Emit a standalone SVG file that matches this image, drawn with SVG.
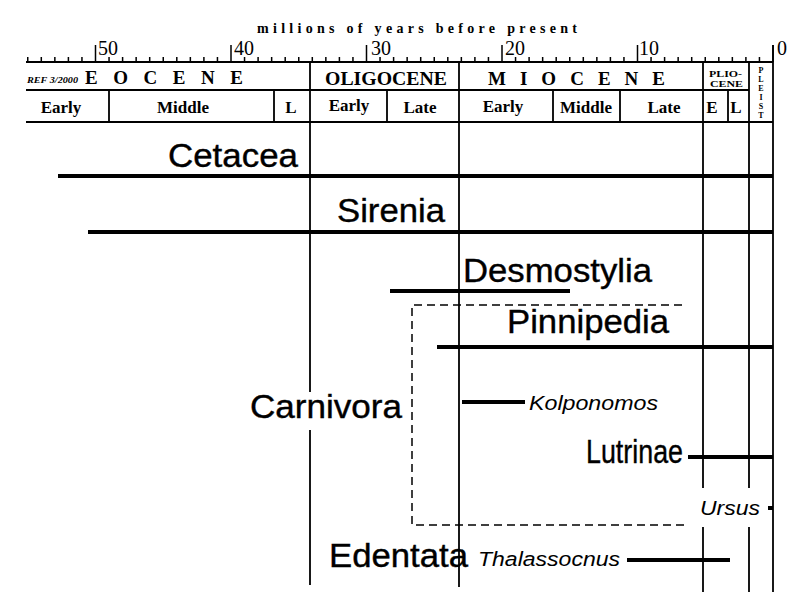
<svg xmlns="http://www.w3.org/2000/svg" width="800" height="600" viewBox="0 0 800 600">
<style>
.ln{stroke:#000;stroke-width:1.8;fill:none}
.bar{stroke:#000;stroke-width:4;fill:none}
.tk{stroke:#000;stroke-width:1.5;fill:none}
.dash{stroke:#000;stroke-width:1.5;fill:none;stroke-dasharray:8 5}
.ser{font-family:"Liberation Serif","Times New Roman",serif;fill:#000}
.sb{font-family:"Liberation Serif","Times New Roman",serif;font-weight:bold;fill:#000}
.big{font-family:"Liberation Sans",Arial,sans-serif;font-size:34px;fill:#000;stroke:#000;stroke-width:0.4}
.it{font-family:"Liberation Sans",Arial,sans-serif;font-size:20px;font-style:italic;fill:#000}
.sub{font-family:"Liberation Serif","Times New Roman",serif;font-weight:bold;font-size:17px;fill:#000;text-anchor:middle}
</style>
<rect width="800" height="600" fill="#fff"/>

<g id="axis">
<text class="sb" x="257" y="33" font-size="14" textLength="320" lengthAdjust="spacing">millions of years before present</text>
<path class="ln" d="M26,62H773"/>
<path class="tk" d="M773,45V62M637.5,45V62M502,45V62M366.5,45V62M231,45V62M95.5,45V62"/>
<path class="tk" d="M759.45,57V62M745.9,57V62M732.35,57V62M718.8,57V62M705.25,57V62M691.7,57V62M678.15,57V62M664.6,57V62M651.05,57V62M623.95,57V62M610.4,57V62M596.85,57V62M583.3,57V62M569.75,57V62M556.2,57V62M542.65,57V62M529.1,57V62M515.55,57V62M488.45,57V62M474.9,57V62M461.35,57V62M447.8,57V62M434.25,57V62M420.7,57V62M407.15,57V62M393.6,57V62M380.05,57V62M352.95,57V62M339.4,57V62M325.85,57V62M312.3,57V62M298.75,57V62M285.2,57V62M271.65,57V62M258.1,57V62M244.55,57V62M217.45,57V62M203.9,57V62M190.35,57V62M176.8,57V62M163.25,57V62M149.7,57V62M136.15,57V62M122.6,57V62M109.05,57V62M81.95,57V62M68.4,57V62M54.85,57V62M41.3,57V62M27.75,57V62"/>
<g class="ser" font-size="20">
<text x="98" y="55">50</text>
<text x="234" y="55">40</text>
<text x="371" y="55">30</text>
<text x="505" y="55">20</text>
<text x="639" y="55">10</text>
<text x="777" y="55">0</text>
</g>
</g>

<g id="epochs">
<path class="ln" d="M26,90H749M26,122H773"/>
<path class="ln" d="M109,90V122M274,90V122M387,90V122M553,90V122M620,90V122M728,90V122"/>
<text class="sb" x="27" y="83" font-size="9" font-style="italic" textLength="51" lengthAdjust="spacingAndGlyphs">REF 3/2000</text>
<text class="sb" x="85" y="84" font-size="19" textLength="158" lengthAdjust="spacing">E O C E N E</text>
<text class="sb" x="325" y="85" font-size="19" font-weight="normal" textLength="122" lengthAdjust="spacingAndGlyphs">OLIGOCENE</text>
<text class="sb" x="488" y="85" font-size="19" textLength="177" lengthAdjust="spacing">M I O C E N E</text>
<text class="sb" x="709" y="77" font-size="9" textLength="33" lengthAdjust="spacingAndGlyphs">PLIO-</text>
<text class="sb" x="710" y="87" font-size="9" textLength="33" lengthAdjust="spacingAndGlyphs">CENE</text>
<text class="sb" font-size="8" text-anchor="middle"><tspan x="761" y="73">P</tspan><tspan x="761" y="82">L</tspan><tspan x="761" y="91">E</tspan><tspan x="761" y="100">I</tspan><tspan x="761" y="109">S</tspan><tspan x="761" y="118">T</tspan></text>
<text class="sub" x="61" y="113">Early</text>
<text class="sub" x="183" y="113">Middle</text>
<text class="sub" x="291" y="113">L</text>
<text class="sub" x="349" y="111">Early</text>
<text class="sub" x="420" y="113">Late</text>
<text class="sub" x="503" y="112">Early</text>
<text class="sub" x="586" y="113">Middle</text>
<text class="sub" x="664" y="113">Late</text>
<text class="sub" x="712" y="113">E</text>
<text class="sub" x="736" y="113">L</text>
</g>

<g id="grid">
<path class="ln" d="M310,62V392M310,430V585"/>
<path class="ln" d="M459,62V587"/>
<path class="ln" d="M703,62V488M703,527V592"/>
<path class="ln" d="M749,62V488M749,527V592"/>
<path class="ln" d="M773,45V592"/>
</g>

<g id="cetacea">
<text class="big" x="168" y="167" textLength="130" lengthAdjust="spacingAndGlyphs">Cetacea</text>
<path class="bar" d="M58,176H773"/>
</g>
<g id="sirenia">
<text class="big" x="337" y="222" textLength="108" lengthAdjust="spacingAndGlyphs">Sirenia</text>
<path class="bar" d="M88,232H773"/>
</g>
<g id="desmostylia">
<text class="big" x="463" y="282" textLength="189" lengthAdjust="spacingAndGlyphs">Desmostylia</text>
<path class="bar" d="M390,291H570"/>
</g>
<g id="carnivora">
<path class="dash" d="M682,305H412V525H688"/>
<text class="big" x="250" y="418" textLength="152" lengthAdjust="spacingAndGlyphs">Carnivora</text>
</g>
<g id="pinnipedia">
<text class="big" x="507" y="333" textLength="162" lengthAdjust="spacingAndGlyphs">Pinnipedia</text>
<path class="bar" d="M437,347H773"/>
</g>
<g id="kolponomos">
<path class="bar" stroke-width="3.5" d="M462,402H525"/>
<text class="it" x="529" y="410" textLength="129" lengthAdjust="spacingAndGlyphs">Kolponomos</text>
</g>
<g id="lutrinae">
<text class="big" font-size="26" x="586" y="463" textLength="97" lengthAdjust="spacingAndGlyphs">Lutrinae</text>
<path class="bar" stroke-width="2" d="M688,457H720"/>
<path class="bar" d="M720,457H773"/>
</g>
<g id="ursus">
<text class="it" x="700" y="515" textLength="60" lengthAdjust="spacingAndGlyphs">Ursus</text>
<path class="bar" d="M768,508H773"/>
</g>
<g id="edentata">
<text class="big" x="329" y="567" textLength="139" lengthAdjust="spacingAndGlyphs">Edentata</text>
<text class="it" x="478" y="566" textLength="142" lengthAdjust="spacingAndGlyphs">Thalassocnus</text>
<path class="bar" d="M627,560H730"/>
</g>
</svg>
